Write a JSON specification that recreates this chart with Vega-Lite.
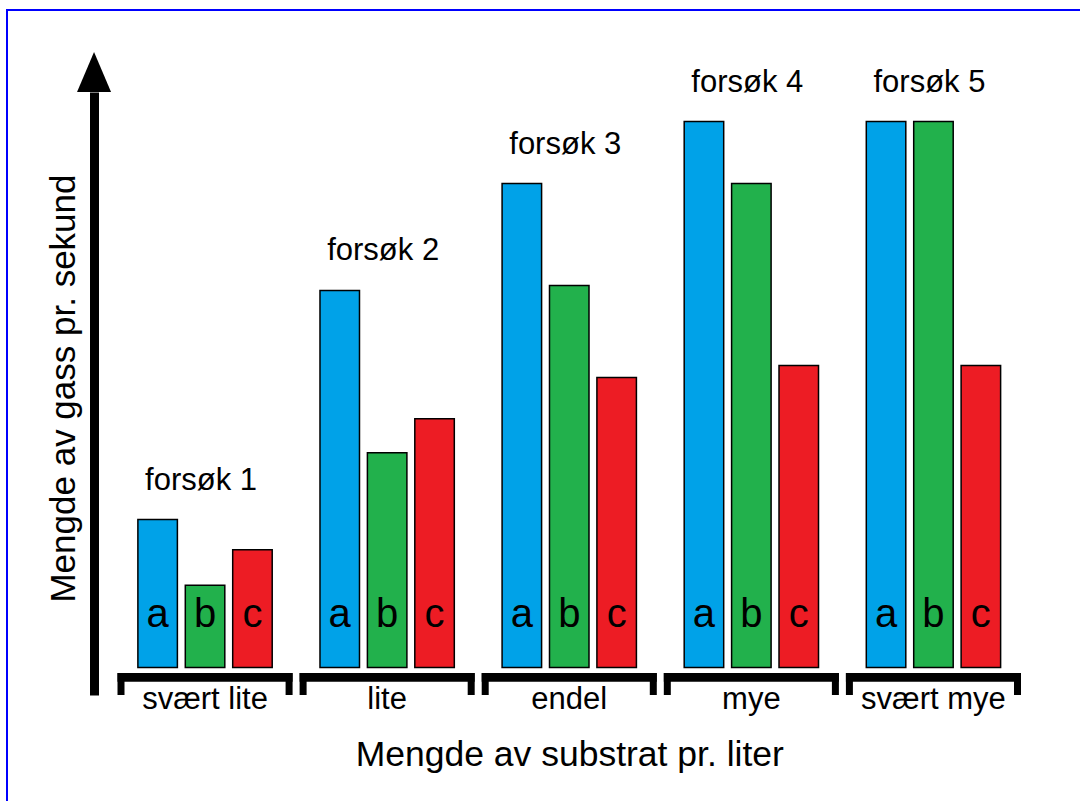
{
  "$schema": "https://vega.github.io/schema/vega-lite/v6.json",
  "autosize": "none",
  "padding": {"left": 7, "top": 10, "right": 0, "bottom": 0},
  "width": 1100,
  "height": 800,
  "background": "white",
  "config": {
    "font": "Liberation Sans",
    "view": {"stroke": "#0000FF", "strokeWidth": 2},
    "axisX": {"offset": -115, "domain": false, "ticks": false, "tickSize": 0, "grid": false,
      "labelFontSize": 31, "labelPadding": 13, "labelBaseline": "alphabetic", "labelColor": "black", "labelAngle": 0, "labelLimit": 0,
      "titleFontSize": 35.5, "titleFontWeight": "normal", "titleColor": "black", "titleY": 70, "titleBaseline": "alphabetic"},
    "axisY": {"offset": -87, "domain": true, "domainColor": "black", "domainWidth": 9, "domainCap": "butt",
      "ticks": false, "labels": false, "grid": false,
      "titleFontSize": 35, "titleFontWeight": "normal", "titleColor": "black", "titleX": -20, "titleY": 378, "titleBaseline": "alphabetic", "titleAngle": -90}
  },
  "data": {"values": [
    {"group": "svært lite", "forsok": "forsøk 1", "series": "a", "value": 27},
    {"group": "svært lite", "forsok": "forsøk 1", "series": "b", "value": 15},
    {"group": "svært lite", "forsok": "forsøk 1", "series": "c", "value": 21.5},
    {"group": "lite", "forsok": "forsøk 2", "series": "a", "value": 68.8},
    {"group": "lite", "forsok": "forsøk 2", "series": "b", "value": 39.2},
    {"group": "lite", "forsok": "forsøk 2", "series": "c", "value": 45.4},
    {"group": "endel", "forsok": "forsøk 3", "series": "a", "value": 88.3},
    {"group": "endel", "forsok": "forsøk 3", "series": "b", "value": 69.7},
    {"group": "endel", "forsok": "forsøk 3", "series": "c", "value": 52.9},
    {"group": "mye", "forsok": "forsøk 4", "series": "a", "value": 99.6},
    {"group": "mye", "forsok": "forsøk 4", "series": "b", "value": 88.3},
    {"group": "mye", "forsok": "forsøk 4", "series": "c", "value": 55.1},
    {"group": "svært mye", "forsok": "forsøk 5", "series": "a", "value": 99.6},
    {"group": "svært mye", "forsok": "forsøk 5", "series": "b", "value": 99.6},
    {"group": "svært mye", "forsok": "forsøk 5", "series": "c", "value": 55.1}
  ]},
  "layer": [
    {
      "mark": {"type": "bar", "stroke": "black", "strokeWidth": 1.5},
      "encoding": {
        "x": {"field": "group", "type": "nominal", "title": "Mengde av substrat pr. liter",
          "scale": {"type": "band", "domain": ["svært lite", "lite", "endel", "mye", "svært mye"], "range": [110.5, 1014], "paddingInner": 0.0385, "paddingOuter": 0}},
        "xOffset": {"field": "series", "type": "nominal", "scale": {"type": "band", "domain": ["a", "b", "c"], "paddingInner": 0.1667, "paddingOuter": 0.43}},
        "y": {"field": "value", "type": "quantitative", "title": "Mengde av gass pr. sekund",
          "scale": {"type": "linear", "domain": [-5, 105], "range": [685, 82], "nice": false, "zero": false}},
        "color": {"field": "series", "type": "nominal", "legend": null,
          "scale": {"domain": ["a", "b", "c"], "range": ["#00A2E8", "#22B14C", "#ED1C24"]}}
      }
    },
    {
      "mark": {"type": "text", "fontSize": 40, "baseline": "alphabetic", "align": "center", "dy": -41, "fill": "black"},
      "encoding": {
        "x": {"field": "group", "type": "nominal", "title": "Mengde av substrat pr. liter",
          "scale": {"type": "band", "domain": ["svært lite", "lite", "endel", "mye", "svært mye"], "range": [110.5, 1014], "paddingInner": 0.0385, "paddingOuter": 0}},
        "xOffset": {"field": "series", "type": "nominal", "scale": {"type": "band", "domain": ["a", "b", "c"], "paddingInner": 0.1667, "paddingOuter": 0.43}},
        "y": {"datum": 0, "type": "quantitative",
          "scale": {"type": "linear", "domain": [-5, 105], "range": [685, 82], "nice": false, "zero": false}},
        "text": {"field": "series", "type": "nominal"}
      }
    },
    {
      "transform": [{"aggregate": [{"op": "max", "field": "value", "as": "top"}], "groupby": ["group", "forsok"]}],
      "mark": {"type": "text", "fontSize": 31, "baseline": "alphabetic", "align": "center", "dy": -30, "dx": -4, "fill": "black"},
      "encoding": {
        "x": {"field": "group", "type": "nominal", "title": "Mengde av substrat pr. liter",
          "scale": {"type": "band", "domain": ["svært lite", "lite", "endel", "mye", "svært mye"], "range": [110.5, 1014], "paddingInner": 0.0385, "paddingOuter": 0}},
        "y": {"field": "top", "type": "quantitative", "title": "Mengde av gass pr. sekund",
          "scale": {"type": "linear", "domain": [-5, 105], "range": [685, 82], "nice": false, "zero": false}},
        "text": {"field": "forsok", "type": "nominal"}
      }
    },
    {
      "transform": [{"aggregate": [{"op": "count", "as": "n"}], "groupby": ["group"]}],
      "mark": {"type": "bar", "color": "black"},
      "encoding": {
        "x": {"field": "group", "type": "nominal", "title": "Mengde av substrat pr. liter",
          "scale": {"type": "band", "domain": ["svært lite", "lite", "endel", "mye", "svært mye"], "range": [110.5, 1014], "paddingInner": 0.0385, "paddingOuter": 0}},
        "y": {"datum": -1, "type": "quantitative",
          "scale": {"type": "linear", "domain": [-5, 105], "range": [685, 82], "nice": false, "zero": false}},
        "y2": {"datum": -2.6}
      }
    },
    {
      "transform": [{"aggregate": [{"op": "count", "as": "n"}], "groupby": ["group"]}],
      "mark": {"type": "rule", "color": "black", "strokeWidth": 7, "xOffset": 3.5},
      "encoding": {
        "x": {"field": "group", "type": "nominal", "bandPosition": 0, "title": "Mengde av substrat pr. liter",
          "scale": {"type": "band", "domain": ["svært lite", "lite", "endel", "mye", "svært mye"], "range": [110.5, 1014], "paddingInner": 0.0385, "paddingOuter": 0}},
        "y": {"datum": -1, "type": "quantitative",
          "scale": {"type": "linear", "domain": [-5, 105], "range": [685, 82], "nice": false, "zero": false}},
        "y2": {"datum": -5}
      }
    },
    {
      "transform": [{"aggregate": [{"op": "count", "as": "n"}], "groupby": ["group"]}],
      "mark": {"type": "rule", "color": "black", "strokeWidth": 7, "xOffset": -3.5},
      "encoding": {
        "x": {"field": "group", "type": "nominal", "bandPosition": 1, "title": "Mengde av substrat pr. liter",
          "scale": {"type": "band", "domain": ["svært lite", "lite", "endel", "mye", "svært mye"], "range": [110.5, 1014], "paddingInner": 0.0385, "paddingOuter": 0}},
        "y": {"datum": -1, "type": "quantitative",
          "scale": {"type": "linear", "domain": [-5, 105], "range": [685, 82], "nice": false, "zero": false}},
        "y2": {"datum": -5}
      }
    },
    {
      "transform": [{"aggregate": [{"op": "count", "as": "n"}]}],
      "mark": {"type": "point", "filled": true, "opacity": 1, "color": "black", "size": 1600, "shape": "M0,-2L0.85,0L-0.85,0Z"},
      "encoding": {
        "x": {"datum": "svært lite", "type": "nominal", "bandPosition": -0.134,
          "scale": {"type": "band", "domain": ["svært lite", "lite", "endel", "mye", "svært mye"], "range": [110.5, 1014], "paddingInner": 0.0385, "paddingOuter": 0}},
        "y": {"datum": 105, "type": "quantitative",
          "scale": {"type": "linear", "domain": [-5, 105], "range": [685, 82], "nice": false, "zero": false}}
      }
    }
  ]
}
